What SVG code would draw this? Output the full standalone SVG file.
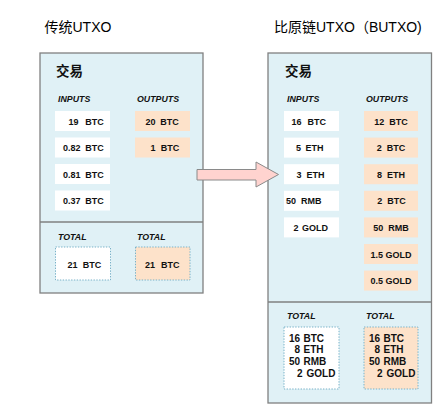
<svg xmlns="http://www.w3.org/2000/svg" width="443" height="409" viewBox="0 0 443 409">
<style>
.panel{fill:#e0f1f6;stroke:#808080;stroke-width:1.3}
.div{stroke:#808080;stroke-width:1.3}
.in{fill:#ffffff}
.out{fill:#fde2ca}
.tot{stroke:#79b2c8;stroke-width:1;stroke-dasharray:1.4 1.4}
.title{font-family:"Liberation Sans","Noto Sans CJK SC",sans-serif;font-size:14px;fill:#000}
.tx{font-family:"Noto Sans CJK SC",sans-serif;font-size:13.5px;font-weight:bold;fill:#111}
.hd{font-family:"Liberation Sans",sans-serif;font-size:8.8px;font-weight:bold;font-style:italic;fill:#111}
.v{font-family:"Liberation Sans",sans-serif;font-size:9px;font-weight:bold;fill:#111}
.c{text-anchor:middle}
.e{text-anchor:end}
.tv{font-family:"Liberation Sans",sans-serif;font-size:10px;font-weight:bold;fill:#111}
</style>
<g id="title-left"><text class="title" x="44.5" y="31.5">传统UTXO</text></g>
<g id="title-right"><text class="title" x="274" y="31.5">比原链UTXO（BUTXO)</text></g>

<g id="tx-left">
<rect class="panel" x="40" y="53" width="163" height="240"/>
<line class="div" x1="40" y1="222" x2="203" y2="222"/>
<text class="tx" x="56" y="75.5">交易</text>
<text class="hd" x="58" y="102">INPUTS</text>
<text class="hd" x="137" y="102">OUTPUTS</text>
<rect class="in" x="55" y="111" width="55" height="20"/>
<text class="v" y="124.5"><tspan x="68.5">19</tspan><tspan x="85.3">BTC</tspan></text>
<rect class="in" x="55" y="137.5" width="55" height="20"/>
<text class="v" y="151"><tspan x="63">0.82</tspan><tspan x="85.3">BTC</tspan></text>
<rect class="in" x="55" y="164" width="55" height="20"/>
<text class="v" y="177.5"><tspan x="63">0.81</tspan><tspan x="85.3">BTC</tspan></text>
<rect class="in" x="55" y="190.5" width="55" height="20"/>
<text class="v" y="204"><tspan x="63">0.37</tspan><tspan x="85.3">BTC</tspan></text>
<rect class="out" x="135" y="111" width="55" height="20"/>
<text class="v" y="124.5"><tspan x="155.5" class="e">20</tspan><tspan x="160.3">BTC</tspan></text>
<rect class="out" x="135" y="137.5" width="55" height="20"/>
<text class="v" y="151"><tspan x="155.5" class="e">1</tspan><tspan x="160.8">BTC</tspan></text>
<text class="hd" x="58" y="240">TOTAL</text>
<text class="hd" x="137" y="240">TOTAL</text>
<rect class="in tot" x="55.5" y="247" width="55" height="33"/>
<text class="v" y="267.5"><tspan x="67.5">21</tspan><tspan x="82.7">BTC</tspan></text>
<rect class="out tot" x="135.5" y="247" width="54.5" height="33"/>
<text class="v" y="267.5"><tspan x="145">21</tspan><tspan x="161">BTC</tspan></text>
</g>

<g id="tx-right">
<rect class="panel" x="268" y="53" width="163.5" height="350"/>
<line class="div" x1="268" y1="302" x2="431.5" y2="302"/>
<text class="tx" x="285" y="75.5">交易</text>
<text class="hd" x="287" y="102">INPUTS</text>
<text class="hd" x="366" y="102">OUTPUTS</text>
<rect class="in" x="284" y="111" width="55" height="20"/>
<text class="v" y="124.5"><tspan x="291.5">16</tspan><tspan x="307.5">BTC</tspan></text>
<rect class="in" x="284" y="137.6" width="55" height="20"/>
<text class="v" y="151.1"><tspan x="296">5</tspan><tspan x="305.5">ETH</tspan></text>
<rect class="in" x="284" y="164.2" width="55" height="20"/>
<text class="v" y="177.7"><tspan x="296.5">3</tspan><tspan x="306.5">ETH</tspan></text>
<rect class="in" x="284" y="190.8" width="55" height="20"/>
<text class="v" y="204.3"><tspan x="286">50</tspan><tspan x="301">RMB</tspan></text>
<rect class="in" x="284" y="217.4" width="55" height="20"/>
<text class="v" y="230.9"><tspan x="293.5">2</tspan><tspan x="302">GOLD</tspan></text>
<rect class="out" x="364" y="111" width="54" height="20"/>
<text class="v c" x="391" y="124.5" xml:space="preserve">12  BTC</text>
<rect class="out" x="364" y="137.6" width="54" height="20"/>
<text class="v c" x="391" y="151.1" xml:space="preserve">2  BTC</text>
<rect class="out" x="364" y="164.2" width="54" height="20"/>
<text class="v c" x="391" y="177.7" xml:space="preserve">8  ETH</text>
<rect class="out" x="364" y="190.8" width="54" height="20"/>
<text class="v c" x="391.5" y="204.3" xml:space="preserve">2  BTC</text>
<rect class="out" x="364" y="217.4" width="54" height="20"/>
<text class="v c" x="391" y="230.9" xml:space="preserve">50  RMB</text>
<rect class="out" x="364" y="244" width="54" height="20"/>
<text class="v c" x="391" y="257.5">1.5 GOLD</text>
<rect class="out" x="364" y="270.6" width="54" height="20"/>
<text class="v c" x="391" y="284.1">0.5 GOLD</text>
<text class="hd" x="287" y="318.5">TOTAL</text>
<text class="hd" x="366" y="318.5">TOTAL</text>
<rect class="in tot" x="284" y="327" width="55" height="62"/>
<text class="tv"><tspan x="300" y="341.7" class="e">16</tspan><tspan x="303.5" y="341.7">BTC</tspan></text>
<text class="tv"><tspan x="300" y="353.4" class="e">8</tspan><tspan x="303.5" y="353.4">ETH</tspan></text>
<text class="tv"><tspan x="300" y="365" class="e">50</tspan><tspan x="303.5" y="365">RMB</tspan></text>
<text class="tv"><tspan x="302.5" y="376.7" class="e">2</tspan><tspan x="306.5" y="376.7">GOLD</tspan></text>
<rect class="out tot" x="364" y="327" width="54" height="62"/>
<text class="tv"><tspan x="380" y="341.7" class="e">16</tspan><tspan x="383.5" y="341.7">BTC</tspan></text>
<text class="tv"><tspan x="380" y="353.4" class="e">8</tspan><tspan x="383.5" y="353.4">ETH</tspan></text>
<text class="tv"><tspan x="380" y="365" class="e">50</tspan><tspan x="383.5" y="365">RMB</tspan></text>
<text class="tv"><tspan x="382.5" y="376.7" class="e">2</tspan><tspan x="386.5" y="376.7">GOLD</tspan></text>
</g>

<g id="connectors">
<polygon points="197,169.5 256,169.5 256,162 278.5,174.5 256,187 256,180 197,180" fill="#ffd3cf" stroke="#8a8a8a" stroke-width="1"/>
</g>
</svg>
